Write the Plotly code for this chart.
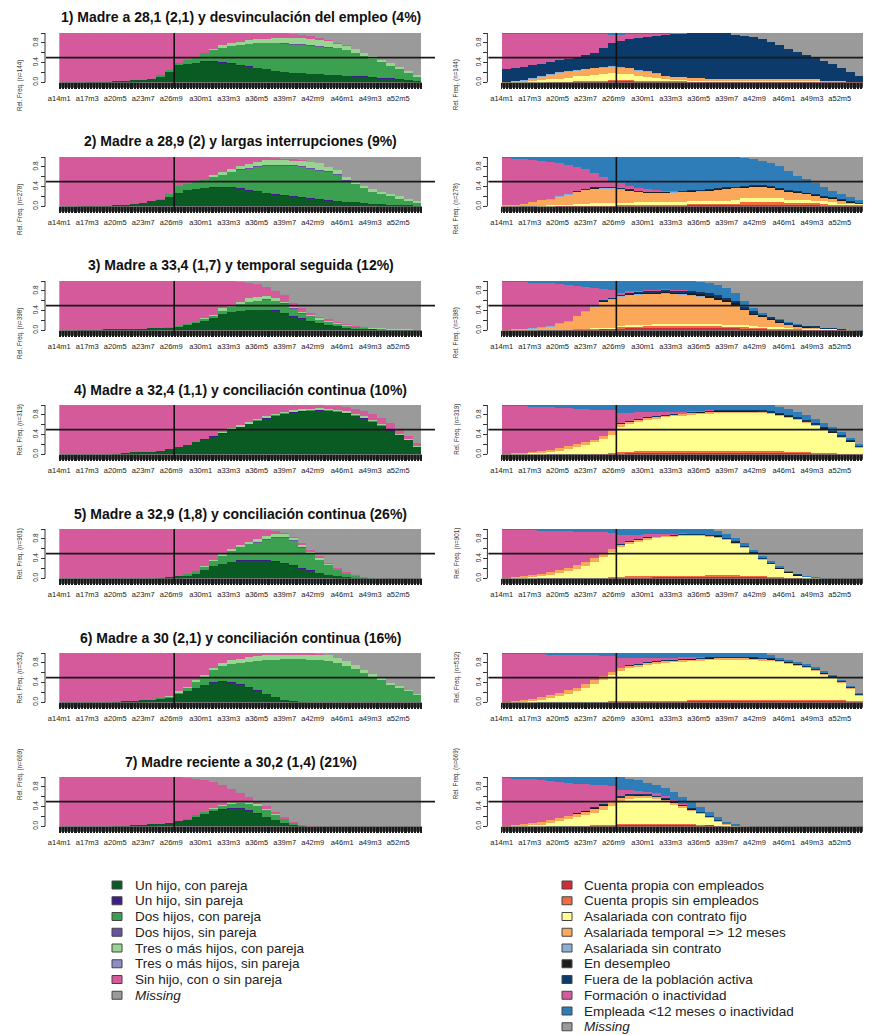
import plotly.graph_objects as go

W, H = 871, 1035
OFF = 8.0  # the page places the figure 8 px from the top-left corner
FW, FH = W - OFF, H - OFF

# ---------------- categories / labels ----------------
ages = list(range(14, 55))  # one bar per year of age (14 .. 54)
tick_labels = ["a14m1", "a17m3", "a20m5", "a23m7", "a26m9", "a30m1", "a33m3",
               "a36m5", "a39m7", "a42m9", "a46m1", "a49m3", "a52m5"]
cut_age = 27

titles = ["1) Madre a 28,1 (2,1) y desvinculación del empleo (4%)",
          "2) Madre a 28,9 (2) y largas interrupciones (9%)",
          "3) Madre a 33,4 (1,7) y temporal seguida (12%)",
          "4) Madre a 32,4 (1,1) y conciliación continua (10%)",
          "5) Madre a 32,9 (1,8) y conciliación continua (26%)",
          "6) Madre a 30 (2,1) y conciliación continua (16%)",
          "7) Madre reciente a 30,2 (1,4) (21%)"]
n_obs = [144, 278, 398, 319, 901, 532, 669]

fam_names = ["Un hijo, con pareja", "Un hijo, sin pareja", "Dos hijos, con pareja",
             "Dos hijos, sin pareja", "Tres o más hijos, con pareja",
             "Tres o más hijos, sin pareja", "Sin hijo, con o sin pareja", "Missing"]
fam_colors = ["#0A5A23", "#3F1C8C", "#3BA050", "#6A51A3",
              "#98D592", "#8E8CC4", "#D55A9C", "#9A9A9A"]

emp_names = ["Cuenta propia con empleados", "Cuenta propis sin empleados",
             "Asalariada con contrato fijo", "Asalariada temporal => 12 meses",
             "Asalariada sin contrato", "En desempleo", "Fuera de la población activa",
             "Formación o inactividad", "Empleada <12 meses o inactividad", "Missing"]
emp_colors = ["#D12A3A", "#F06B3E", "#FFFF8F", "#FBA85A", "#8AB0D8",
              "#1C1C1C", "#0B3A6B", "#D55A9C", "#2E7DB8", "#9A9A9A"]

ZERO = [0] * 41

# ---------------- panel 1 ----------------
f1_a = [0,0,0,.01,.01,.01,.02,.02,.04,.05, .07,.12,.2,.36,.38,.4,.42,.42,.4,.38,
        .35,.32,.29,.26,.23,.21,.19,.18,.17,.16, .15,.14,.13,.12,.11,.1,.08,.07,.05,.04, .03]
f1_b = [0,0,0,0,0,0,0,0,0,0, 0,0,0,0,0,0,.01,.01,.01,.01,
        .01,.01,.01,0,0,0,0,0,0,0, 0,0,0,.01,.01,.01,.01,.01,.01,0, 0]
f1_c = [0,0,0,0,0,0,0,0,0,0, 0,.02,.05,.03,.07,.12,.17,.23,.3,.35,
        .4,.45,.5,.53,.56,.57,.58,.58,.58,.57, .56,.55,.52,.47,.42,.37,.33,.27,.22,.16, .09]
f1_d = [0,0,0,0,0,0,0,0,0,0, 0,0,0,0,0,0,0,0,0,0,
        0,0,0,0,0,.01,.01,.01,.01,.01, .01,0,0,0,0,0,0,0,0,0, 0]
f1_e = [0,0,0,0,0,0,0,0,0,0, 0,0,0,0,0,0,0,.02,.04,.05,
        .06,.07,.08,.09,.1,.11,.12,.12,.12,.12, .12,.1,.09,.08,.06,.05,.04,.04,.03,.02, .02]
f1_f = ZERO
f1_g = [1,1,1,.99,.99,.99,.98,.98,.96,.95, .93,.86,.75,.61,.55,.48,.4,.32,.25,.21,
        .18,.15,.12,.12,.11,.1,.08,.06,.05,.04, .02,.01,.01,0,0,0,0,0,0,0, 0]
f1_h = [0,0,0,0,0,0,0,0,0,0, 0,0,0,0,0,0,0,0,0,0,
        0,0,0,0,0,0,.02,.05,.07,.1, .14,.2,.25,.32,.4,.47,.54,.61,.69,.78, .86]

e1_r1 = [0,0,0,0,0,0,0,0,.01,.01, .02,.02,.03,.03,.03,.02,.02,.02,.02,.02,
         .02,.01,.01,.01,.01,.01,.01,.01,.01,.01, .01,.01,.01,.01,.01,.01,.01,.01,.01,.01, .01]
e1_r2 = [0,0,0,0,0,.01,.01,.01,.01,.01, .01,.01,.01,.01,.01,.01,.01,.01,.01,.01,
         .01,0,0,0,0,0,0,0,0,0, 0,0,0,0,0,0,0,0,0,0, 0]
e1_r3 = [0,.01,.02,.03,.04,.05,.06,.08,.1,.11, .12,.13,.14,.13,.12,.1,.08,.06,.04,.03,
         .03,.02,.02,.02,.02,.02,.02,.02,.02,.02, .02,.02,.02,.02,.02,.02,.01,.01,.01,0, 0]
e1_r4 = [.01,.01,.02,.04,.07,.1,.12,.13,.12,.14, .14,.15,.14,.14,.13,.11,.1,.08,.05,.04,
         .04,.06,.05,.03,.03,.03,.03,.03,.03,.03, .03,.03,.03,.03,.03,.03,.01,.01,.01,0, 0]
e1_r5 = [0,0,.01,.01,.01,.01,.01,.01,.01,.01, .01,.01,.01,.01,.01,.01,.01,.01,0,0,
         0,0,0,0,0,0,0,0,0,0, 0,0,0,0,0,0,0,0,0,0, 0]
e1_r6 = ZERO
e1_r7 = [.27,.28,.27,.27,.26,.24,.25,.25,.27,.28, .3,.38,.47,.52,.57,.65,.7,.77,.84,.88,
         .89,.91,.92,.94,.94,.94,.91,.88,.85,.81, .76,.69,.62,.56,.49,.44,.4,.34,.26,.2, .11]
e1_r8 = [.71,.69,.67,.64,.61,.58,.53,.5,.46,.42, .38,.28,.16,.13,.11,.09,.07,.04,.03,.02,
         .01,0,0,0,0,0,0,0,0,0, 0,0,0,0,0,0,0,0,0,0, 0]
e1_r9 = [.01,.01,.01,.01,.01,.01,.02,.02,.02,.02, .02,.02,.04,.03,.02,.01,.01,.01,.01,0,
         0,0,0,0,0,0,0,0,0,0, 0,0,0,0,0,0,0,0,0,0, 0]
e1_r10 = [0,0,0,0,0,0,0,0,0,0, 0,0,0,0,0,0,0,0,0,0,
          0,0,0,0,0,0,.03,.06,.09,.13, .18,.25,.32,.38,.45,.5,.57,.63,.71,.79, .88]

# ---------------- panel 2 ----------------
f2_a = [0,0,.01,.01,.01,.01,.02,.03,.05,.07, .1,.13,.2,.27,.33,.36,.38,.39,.39,.38,
        .36,.33,.3,.27,.24,.22,.2,.18,.16,.14, .12,.11,.09,.08,.06,.05,.04,.03,.02,.02, .01]
f2_b = [0,0,0,0,0,0,0,0,0,0, 0,0,0,0,0,0,0,.01,.01,.01,
        .01,.01,.01,.01,.01,.01,.01,.01,.01,.01, .01,0,0,0,0,0,0,0,0,0, 0]
f2_c = [0,0,0,0,0,0,0,0,0,0, 0,.01,.04,.15,.13,.14,.16,.2,.25,.31,
        .37,.43,.49,.54,.58,.6,.61,.61,.6,.58, .57,.53,.44,.37,.31,.26,.22,.18,.14,.1, .07]
f2_d = [0,0,0,0,0,0,0,0,0,0, 0,0,0,0,0,0,0,0,0,0,
        .01,.01,.01,.01,.01,.01,.01,.01,.01,.01, .01,.01,.01,0,0,0,0,0,0,0, 0]
f2_e = [0,0,0,0,0,0,0,0,0,0, 0,0,0,0,0,0,0,.03,.04,.05,
        .07,.08,.09,.1,.1,.1,.1,.11,.12,.13, .09,.08,.06,.05,.05,.04,.04,.04,.04,.03, .03]
f2_f = ZERO
f2_g = [1,1,.99,.99,.99,.99,.98,.97,.95,.93, .9,.86,.76,.58,.54,.5,.46,.37,.31,.25,
        .18,.14,.1,.07,.05,.03,.02,.01,0,0, 0,0,0,0,0,0,0,0,0,0, 0]
f2_h = [0,0,0,0,0,0,0,0,0,0, 0,0,0,0,0,0,0,0,0,0,
        0,0,0,0,.01,.03,.05,.07,.1,.13, .2,.27,.4,.5,.58,.65,.7,.75,.8,.85, .89]

e2_r1 = [0,0,0,0,0,0,.01,.01,.01,.01, .01,.01,.01,.02,.02,.02,.02,.02,.02,.02,
         .02,.03,.03,.03,.03,.03,.03,.04,.04,.04, .04,.04,.03,.03,.03,.03,.02,.02,.02,.02, .02]
e2_r2 = [0,0,0,0,0,0,0,0,.01,.01, .01,.01,.01,.01,.01,.01,.01,.01,.01,.01,
         .01,.02,.02,.02,.02,.02,.02,.04,.04,.04, .04,.04,.03,.03,.03,.03,.03,.01,.01,.01, .01]
e2_r3 = [0,0,0,0,.01,.02,.02,.02,.02,.02, .04,.04,.04,.04,.04,.05,.05,.05,.05,.05,
         .05,.06,.06,.06,.06,.06,.08,.08,.08,.08, .08,.08,.06,.06,.06,.05,.05,.05,.02,.02, .02]
e2_r4 = [.02,.03,.05,.08,.11,.12,.16,.21,.25,.3, .3,.31,.31,.28,.25,.21,.19,.19,.19,.2,
         .21,.19,.2,.21,.23,.25,.25,.23,.24,.24, .22,.19,.18,.16,.13,.11,.08,.07,.07,.03, 0]
e2_r5 = [0,0,0,0,0,.01,.01,.01,.01,.01, .01,.01,.01,.01,.01,.01,.01,.01,.01,.01,
         .01,.01,.01,.01,.01,.01,0,0,0,0, 0,0,0,0,0,0,0,0,0,0, 0]
e2_r6 = [0,0,0,0,0,0,0,0,0,0, .01,.01,.01,.01,.01,.01,.01,.01,.01,.01,
         .01,.01,.01,.01,.01,.01,.01,.02,.02,.02, .02,.02,.02,.02,.02,.02,.02,.02,.01,.01, .01]
e2_r7 = [0,0,0,0,0,0,0,0,.01,.01, .01,.01,.01,.01,.01,.01,.01,.01,.01,.01,
         .01,.01,.01,.01,.01,.01,.01,.01,.01,.01, .01,.01,.01,.01,.01,.01,.01,.01,.01,.01, .01]
e2_r8 = [.96,.94,.91,.86,.8,.75,.68,.59,.49,.39, .29,.2,.12,.09,.07,.06,.05,.03,.02,.01,
         0,0,0,0,0,0,0,0,0,0, 0,0,0,0,0,0,0,0,0,0, 0]
e2_r9 = [.02,.03,.04,.06,.08,.1,.12,.16,.2,.25, .32,.4,.48,.53,.58,.62,.65,.67,.68,.68,
         .68,.67,.66,.65,.63,.61,.6,.56,.53,.49, .47,.44,.39,.31,.27,.22,.19,.14,.11,.08, .05]
e2_r10 = [0,0,0,0,0,0,0,0,0,0, 0,0,0,0,0,0,0,0,0,0,
          0,0,0,0,0,0,0,.02,.04,.08, .12,.18,.28,.38,.45,.53,.6,.68,.75,.82, .88]

# ---------------- panel 3 ----------------
f3_a = [0,0,.01,.01,.01,.02,.02,.02,.03,.03, .04,.05,.06,.08,.11,.16,.2,.26,.33,.37,
        .4,.41,.42,.42,.4,.35,.28,.23,.18,.14, .1,.08,.06,.04,.03,.03,.02,.02,.01,.01, .01]
f3_b = [0,0,0,0,0,0,0,0,0,0, 0,0,0,0,0,0,0,0,0,0,
        0,0,0,0,.01,.01,.01,.01,.01,.01, .01,0,0,0,0,0,0,0,0,0, 0]
f3_c = [0,0,0,0,0,0,0,0,0,0, 0,0,.01,.01,.01,.01,.03,.04,.07,.1,
        .13,.17,.18,.2,.19,.19,.16,.11,.11,.07, .06,.05,.04,.03,.02,.01,.01,0,0,0, 0]
f3_d = [0,0,0,0,0,0,0,0,0,0, 0,0,0,0,0,0,0,0,0,0,
        0,0,0,.01,.01,.01,.01,.01,0,0, 0,0,0,0,0,0,0,0,0,0, 0]
f3_e = [0,0,0,0,0,0,0,0,0,0, 0,0,0,0,0,0,.01,.01,.05,.05,
        .05,.07,.08,.07,.04,.02,.01,.02,.02,.03, .03,.02,.01,.01,.01,.01,.01,.01,.01,.01, 0]
f3_f = ZERO
f3_g = [1,1,.99,.99,.99,.98,.98,.98,.97,.97, .96,.95,.93,.91,.88,.83,.76,.69,.55,.48,
        .41,.32,.25,.18,.15,.14,.08,.07,.04,.03, .02,.02,.01,.01,.01,0,0,0,0,0, 0]
f3_h = [0,0,0,0,0,0,0,0,0,0, 0,0,0,0,0,0,0,0,0,0,
        .01,.03,.07,.12,.2,.28,.45,.55,.64,.72, .78,.83,.88,.91,.93,.95,.96,.97,.98,.98, .99]

e3_r1 = [0,0,0,0,0,0,0,.01,.01,.02, .02,.03,.03,.04,.05,.05,.06,.06,.06,.06,
         .06,.06,.06,.06,.06,.05,.05,.04,.03,.03, .02,.02,.02,.01,.01,.01,.01,.01,.01,0, 0]
e3_r2 = [0,0,0,0,0,0,0,0,.01,.01, .01,.01,.01,.03,.03,.03,.03,.03,.03,.03,
         .03,.03,.03,.03,.03,.03,.03,.03,.03,.02, .02,.02,.02,.02,.01,.01,.01,.01,.01,0, 0]
e3_r3 = [0,0,0,0,0,0,0,0,0,0, .01,.01,.01,.02,.02,.02,.02,.04,.04,.04,
         .04,.04,.04,.04,.04,.03,.03,.03,.02,.02, .02,.02,.01,.01,.01,.01,.01,.01,0,0, 0]
e3_r4 = [.01,.02,.03,.03,.05,.08,.13,.17,.27,.36, .45,.53,.58,.6,.62,.63,.63,.61,.62,.61,
         .6,.58,.56,.53,.49,.47,.41,.32,.25,.2, .16,.1,.06,.04,.03,.02,.01,0,0,.01, 0]
e3_r5 = [0,0,0,.01,.01,.01,.01,.01,.01,.01, .01,.01,.01,.01,.01,.01,.01,.01,.01,.01,
         .01,.01,.01,.01,.01,0,0,0,0,0, 0,0,0,0,0,0,0,0,0,0, 0]
e3_r6 = [0,0,0,0,0,0,0,0,0,0, 0,.01,.01,.01,.01,.02,.02,.02,.02,.02,
         .02,.03,.03,.03,.03,.03,.03,.02,.02,.02, .02,.02,.01,.01,.01,.01,0,0,0,0, 0]
e3_r7 = [0,0,0,0,0,0,0,0,0,0, 0,.01,.01,.02,.03,.03,.03,.03,.04,.04,
         .04,.05,.05,.05,.05,.05,.05,.04,.04,.04, .03,.03,.03,.02,.02,.02,.01,.01,.01,0, 0]
e3_r8 = [.98,.97,.95,.93,.9,.86,.8,.73,.6,.48, .36,.23,.16,.03,.02,.01,.01,.01,.01,.01,
         .01,0,0,0,0,0,0,0,0,0, 0,0,0,0,0,0,0,0,0,0, 0]
e3_r9 = [.01,.01,.02,.03,.04,.05,.06,.08,.1,.12, .14,.16,.18,.24,.21,.2,.19,.19,.17,.18,
         .19,.2,.2,.2,.21,.19,.15,.12,.06,.02, .01,.01,.01,.01,0,0,0,0,0,0, .01]
e3_r10 = [0,0,0,0,0,0,0,0,0,0, 0,0,0,0,0,0,0,0,0,0,
          0,0,.02,.05,.08,.15,.25,.4,.55,.65, .72,.78,.84,.88,.91,.92,.95,.96,.97,.99, .99]

# ---------------- panel 4 ----------------
f4_a = [0,0,0,0,0,0,.01,.02,.04,.05, .05,.06,.1,.14,.18,.24,.3,.37,.43,.5,
        .56,.62,.68,.73,.78,.82,.85,.87,.88,.89, .88,.86,.83,.78,.73,.66,.58,.49,.39,.29, .16]
f4_b = [0,0,0,0,0,0,0,0,0,0, 0,0,0,0,0,0,.01,.01,.01,.01,
        .01,.01,.01,.01,.01,.01,.01,.01,.01,.01, .01,.01,.01,.01,.01,.01,.01,.01,.01,0, 0]
f4_c = [0,0,0,0,0,0,0,0,0,0, 0,0,0,0,0,0,0,0,0,0,
        0,0,.01,.01,.01,.01,.01,.01,.01,.01, .01,.01,.01,.01,.01,.01,.01,0,0,0, 0]
f4_d = ZERO
f4_e = [0,0,0,0,0,0,0,0,0,0, 0,0,0,0,0,0,0,0,.02,.02,
        .02,.02,.02,.02,.02,.02,.02,.02,.02,.02, .02,.02,.02,.02,.02,.02,.02,.02,.02,.02, .01]
f4_f = ZERO
f4_g = [1,1,1,1,1,1,.99,.98,.96,.95, .95,.94,.9,.86,.82,.76,.69,.62,.54,.47,
        .41,.35,.28,.23,.18,.14,.11,.09,.08,.07, .07,.08,.09,.1,.11,.12,.12,.12,.1,.07, .05]
f4_h = [0,0,0,0,0,0,0,0,0,0, 0,0,0,0,0,0,0,0,0,0,
        0,0,0,0,0,0,0,0,0,0, .01,.02,.04,.08,.12,.18,.26,.36,.48,.62, .78]

e4_r1 = [0,0,0,0,0,0,0,0,0,0, .01,.01,.01,.02,.03,.04,.04,.04,.04,.04,
         .04,.04,.04,.04,.04,.04,.04,.04,.04,.04, .04,.04,.03,.03,.03,.02,.02,.02,.01,.01, .01]
e4_r2 = [0,0,0,0,0,0,0,0,0,0, 0,0,.01,.02,.02,.02,.02,.02,.02,.02,
         .02,.02,.02,.02,.02,.02,.02,.02,.02,.02, .02,.02,.02,.02,.01,.01,.01,.01,0,0, 0]
e4_r3 = [0,.01,.01,.03,.04,.06,.08,.11,.15,.18, .23,.3,.38,.51,.56,.6,.63,.67,.7,.72,
         .73,.75,.76,.77,.78,.78,.78,.78,.78,.78, .76,.73,.7,.65,.61,.56,.49,.41,.34,.24, .13]
e4_r4 = [.01,.01,.02,.02,.03,.03,.04,.05,.05,.06, .06,.07,.07,.07,.06,.05,.05,.04,.03,.03,
         .03,.03,.03,.03,.03,.03,.03,.03,.03,.02, .02,.02,.02,.02,.01,.01,.01,.01,.01,.01, .01]
e4_r5 = ZERO
e4_r6 = [0,0,0,0,0,0,0,0,0,0, 0,0,0,0,0,0,0,0,0,0,
         0,.01,.01,.01,.01,.01,.01,.01,.01,.01, .01,.01,.01,.01,.01,.01,.01,.01,.01,.01, .01]
e4_r7 = [0,0,0,0,0,0,0,0,0,0, 0,0,0,.01,.01,.01,.01,.01,.01,.01,
         .01,.01,.01,.01,.01,.01,.02,.02,.02,.02, .02,.02,.02,.02,.02,.02,.02,.02,.02,.02, .02]
e4_r8 = [.98,.97,.95,.92,.89,.86,.82,.77,.72,.67, .6,.52,.42,.2,.16,.13,.1,.08,.06,.04,
         .03,.02,.01,.01,0,0,0,0,0,0, 0,0,0,0,0,0,0,0,0,0, 0]
e4_r9 = [.01,.01,.02,.03,.04,.05,.06,.07,.08,.09, .1,.1,.11,.17,.16,.15,.15,.14,.14,.14,
         .14,.12,.12,.11,.11,.11,.1,.1,.1,.11, .13,.13,.12,.11,.1,.09,.08,.07,.06,.04, .02]
e4_r10 = [0,0,0,0,0,0,0,0,0,0, 0,0,0,0,0,0,0,0,0,0,
          0,0,0,0,0,0,0,0,0,0, 0,.03,.08,.14,.21,.28,.36,.45,.55,.67, .8]

# ---------------- panel 5 ----------------
f5_a = [0,0,0,0,0,0,0,0,0,0, 0,.01,.02,.04,.06,.1,.16,.25,.3,.33,
        .36,.37,.37,.36,.34,.3,.26,.2,.15,.1, .07,.04,.02,.01,.01,0,0,0,0,0, 0]
f5_b = [0,0,0,0,0,0,0,0,0,0, 0,0,0,0,0,0,0,0,0,0,
        .01,.01,.01,.01,.01,.01,.01,.01,.01,0, 0,0,0,0,0,0,0,0,0,0, 0]
f5_c = [0,0,0,0,0,0,0,0,0,0, 0,0,0,0,.02,.04,.07,.11,.17,.23,
        .26,.31,.35,.41,.48,.52,.49,.42,.35,.28, .2,.13,.07,.04,.01,.01,0,0,0,0, 0]
f5_d = [0,0,0,0,0,0,0,0,0,0, 0,0,0,0,0,0,0,0,0,0,
        0,0,.01,.01,.01,.01,.01,.01,.01,.01, 0,0,0,0,0,0,0,0,0,0, 0]
f5_e = [0,0,0,0,0,0,0,0,0,0, 0,0,0,0,0,0,.01,.02,.03,.04,
        .05,.05,.06,.06,.06,.06,.05,.04,.03,.03, .02,.01,.01,0,0,0,0,0,0,0, 0]
f5_f = ZERO
f5_g = [1,1,1,1,1,1,1,1,1,1, 1,.99,.98,.96,.92,.86,.76,.62,.5,.4,
        .32,.26,.2,.14,.07,.02,.02,.04,.03,.03, .03,.02,.02,.01,.01,0,0,0,0,0, 0]
f5_h = [0,0,0,0,0,0,0,0,0,0, 0,0,0,0,0,0,0,0,0,0,
        0,0,0,.01,.03,.08,.16,.28,.42,.55, .68,.8,.88,.94,.97,.99,1,1,1,1, 1]

e5_r1 = [0,0,0,0,0,0,0,0,0,0, 0,0,.01,.02,.02,.02,.02,.03,.03,.03,
         .03,.03,.03,.04,.04,.04,.04,.03,.03,.03, .02,.02,.01,.01,0,0,0,0,0,0, 0]
e5_r2 = [0,0,0,0,0,0,0,0,0,0, 0,0,.01,.01,.02,.02,.02,.02,.02,.02,
         .02,.02,.02,.02,.02,.02,.02,.02,.02,.01, .01,.01,0,0,0,0,0,0,0,0, 0]
e5_r3 = [0,.01,.02,.04,.06,.08,.11,.14,.19,.25, .34,.43,.52,.6,.66,.7,.75,.77,.79,.8,
         .81,.81,.81,.78,.77,.72,.65,.57,.45,.35, .26,.16,.1,.04,.03,.01,0,0,0,0, 0]
e5_r4 = [.01,.01,.02,.02,.03,.04,.05,.06,.07,.08, .08,.07,.06,.05,.04,.04,.03,.02,.02,.02,
         .02,.02,.02,.02,.02,.02,.02,.02,.01,.01, .01,.01,.01,.01,0,0,0,0,0,0, 0]
e5_r5 = ZERO
e5_r6 = [0,0,0,0,0,0,0,0,0,0, 0,0,0,0,0,0,0,0,0,0,
         .01,.01,.01,.01,.01,.01,.01,.01,.01,.01, .01,.01,.01,.01,0,0,0,0,0,0, 0]
e5_r7 = [0,0,0,0,0,0,0,0,0,0, 0,0,0,.01,.01,.01,.01,.01,.01,.01,
         .01,.01,.01,.01,.01,.01,.01,.01,.01,.01, .01,.01,.01,.01,0,0,0,0,0,0, 0]
e5_r8 = [.98,.97,.94,.92,.88,.84,.79,.75,.68,.61, .51,.43,.32,.18,.12,.08,.06,.04,.03,.02,
         .01,0,0,0,0,0,0,0,0,0, 0,0,0,0,0,0,0,0,0,0, 0]
e5_r9 = [.01,.01,.02,.02,.03,.04,.05,.05,.06,.06, .07,.07,.08,.13,.13,.13,.11,.11,.1,.1,
         .09,.1,.1,.12,.1,.08,.07,.06,.05,.04, .03,.02,.01,0,.01,.01,.01,0,0,0, 0]
e5_r10 = [0,0,0,0,0,0,0,0,0,0, 0,0,0,0,0,0,0,0,0,0,
          0,0,0,0,.03,.1,.18,.28,.42,.54, .65,.76,.85,.92,.96,.98,.99,1,1,1, 1]

# ---------------- panel 6 ----------------
f6_a = [0,0,0,0,0,0,.01,.02,.03,.04, .05,.07,.1,.18,.23,.3,.36,.4,.42,.4,
        .36,.3,.24,.17,.1,.05,.03,.01,0,0, 0,0,0,0,0,0,0,0,0,0, 0]
f6_b = [0,0,0,0,0,0,0,0,0,0, 0,0,0,0,0,0,0,.01,.01,.01,
        .01,.01,.01,0,0,0,0,0,0,0, 0,0,0,0,0,0,0,0,0,0, 0]
f6_c = [0,0,0,0,0,0,0,0,0,0, 0,.01,.02,.02,.07,.12,.16,.24,.3,.37,
        .43,.51,.59,.68,.76,.82,.84,.86,.86,.85, .83,.8,.74,.67,.6,.52,.46,.37,.3,.23, .15]
f6_d = ZERO
f6_e = [0,0,0,0,0,0,0,0,0,0, 0,0,.01,.02,.02,.03,.03,.05,.07,.07,
        .08,.09,.09,.1,.1,.1,.1,.1,.11,.12, .13,.1,.09,.08,.06,.05,.04,.03,.03,.02, .01]
f6_f = ZERO
f6_g = [1,1,1,1,1,1,.99,.98,.97,.96, .95,.92,.87,.78,.68,.55,.45,.3,.2,.15,
        .12,.09,.07,.05,.04,.03,.03,.03,.03,.02, 0,0,0,0,0,0,0,0,0,0, 0]
f6_h = [0,0,0,0,0,0,0,0,0,0, 0,0,0,0,0,0,0,0,0,0,
        0,0,0,0,0,0,0,0,0,.01, .04,.1,.17,.25,.34,.43,.5,.6,.67,.75, .84]

e6_r1 = [0,0,0,0,0,0,0,0,0,0, 0,0,.01,.01,.02,.02,.02,.02,.02,.02,
         .02,.03,.03,.03,.03,.03,.03,.03,.03,.04, .04,.04,.04,.04,.04,.04,.03,.03,.03,.02, .02]
e6_r2 = [0,0,0,0,0,0,0,0,0,0, 0,0,.01,.01,.01,.01,.01,.01,.01,.01,
         .01,.01,.01,.01,.01,.01,.01,.01,.01,.01, .01,.01,.01,.01,.01,.01,.01,.01,.01,.01, .01]
e6_r3 = [0,0,.02,.04,.06,.09,.12,.17,.22,.29, .37,.46,.53,.62,.66,.7,.73,.76,.78,.79,
         .8,.8,.81,.82,.83,.83,.83,.83,.82,.8, .79,.77,.74,.7,.65,.59,.53,.46,.36,.25, .1]
e6_r4 = [.01,.02,.02,.03,.04,.05,.06,.07,.08,.09, .09,.08,.07,.06,.05,.04,.04,.03,.03,.03,
         .03,.03,.03,.03,.03,.03,.03,.03,.03,.03, .03,.02,.02,.02,.02,.02,.02,.02,.02,.02, .02]
e6_r5 = ZERO
e6_r6 = [0,0,0,0,0,0,0,0,0,0, 0,0,0,0,0,0,0,0,0,0,
         .01,.01,.01,.01,.01,.01,.01,.01,.01,.01, .01,.01,.01,.01,.01,.01,.01,.01,.01,.01, .01]
e6_r7 = [0,0,0,0,0,0,0,0,0,0, 0,0,0,0,.01,.01,.01,.01,.01,.01,
         .01,.01,.01,.01,.01,.01,.01,.01,.01,.01, .01,.01,.01,.01,.01,.01,.01,.01,.01,.01, .01]
e6_r8 = [.98,.97,.95,.91,.88,.83,.79,.72,.66,.57, .49,.4,.32,.2,.15,.11,.08,.06,.05,.04,
         .03,.02,.01,0,0,0,0,0,0,0, 0,0,0,0,0,0,0,0,0,0, 0]
e6_r9 = [.01,.01,.01,.02,.02,.03,.03,.04,.04,.05, .05,.06,.06,.1,.1,.11,.11,.11,.1,.1,
         .09,.09,.09,.09,.08,.08,.08,.08,.09,.1, .08,.04,.03,.03,.03,.03,.03,.02,.02,.02, .01]
e6_r10 = [0,0,0,0,0,0,0,0,0,0, 0,0,0,0,0,0,0,0,0,0,
          0,0,0,0,0,0,0,0,0,0, .03,.1,.14,.18,.23,.29,.36,.44,.54,.66, .82]

# ---------------- panel 7 ----------------
f7_a = [0,0,0,0,0,0,.01,.01,.02,.03, .04,.05,.07,.1,.13,.19,.25,.3,.34,.36,
        .36,.32,.26,.19,.12,.06,.02,.01,0,0, 0,0,0,0,0,0,0,0,0,0, 0]
f7_b = [0,0,0,0,0,0,0,0,0,0, 0,0,0,0,0,0,0,.01,.01,.01,
        .01,.01,.01,0,0,0,0,0,0,0, 0,0,0,0,0,0,0,0,0,0, 0]
f7_c = [0,0,0,0,0,0,0,0,0,0, 0,0,0,0,.01,.03,.05,.06,.07,.1,
        .11,.14,.15,.15,.12,.09,.05,.01,0,0, 0,0,0,0,0,0,0,0,0,0, 0]
f7_d = ZERO
f7_e = [0,0,0,0,0,0,0,0,0,0, 0,0,0,0,0,0,0,.01,.02,.03,
        .03,.03,.03,.02,.01,0,0,0,0,0, 0,0,0,0,0,0,0,0,0,0, 0]
f7_f = ZERO
f7_g = [1,1,1,1,1,1,.99,.99,.98,.97, .96,.95,.93,.9,.85,.75,.64,.52,.4,.26,
        .16,.1,.07,.06,.05,.03,.02,.01,.01,0, 0,0,0,0,0,0,0,0,0,0, 0]
f7_h = [0,0,0,0,0,0,0,0,0,0, 0,0,0,0,.01,.03,.06,.1,.16,.24,
        .33,.4,.48,.58,.7,.82,.91,.97,.99,1, 1,1,1,1,1,1,1,1,1,1, 1]

e7_r1 = [0,0,0,0,0,0,0,0,0,0, .01,.01,.02,.04,.04,.04,.04,.04,.04,.03,
         .03,.03,.02,.02,.01,0,0,0,0,0, 0,0,0,0,0,0,0,0,0,0, 0]
e7_r2 = [0,0,0,0,0,0,0,0,0,0, .01,.01,.01,.01,.01,.01,.01,.01,.01,.01,
         .01,.01,.01,0,0,0,0,0,0,0, 0,0,0,0,0,0,0,0,0,0, 0]
e7_r3 = [0,.01,.02,.03,.04,.07,.1,.14,.18,.22, .26,.32,.39,.46,.51,.53,.52,.5,.46,.41,
         .35,.28,.22,.15,.09,.04,.01,0,0,0, 0,0,0,0,0,0,0,0,0,0, 0]
e7_r4 = [.01,.01,.02,.03,.04,.05,.06,.07,.08,.09, .09,.09,.08,.07,.06,.05,.05,.05,.04,.04,
         .03,.03,.02,.02,.01,.01,.01,.01,0,0, 0,0,0,0,0,0,0,0,0,0, 0]
e7_r5 = ZERO
e7_r6 = [0,0,0,0,0,0,0,0,.01,.01, .01,.01,.01,.01,.01,.01,.01,.01,.01,.01,
         .01,.01,.01,.01,.01,0,0,0,0,0, 0,0,0,0,0,0,0,0,0,0, 0]
e7_r7 = [0,0,0,0,0,0,0,0,0,0, .01,.01,.01,.02,.02,.02,.02,.02,.02,.02,
         .02,.02,.02,.01,.01,0,0,0,0,0, 0,0,0,0,0,0,0,0,0,0, 0]
e7_r8 = [.97,.95,.92,.89,.85,.8,.74,.67,.59,.53, .45,.38,.3,.12,.08,.06,.05,.04,.03,.02,
         .01,0,0,0,0,0,0,0,0,0, 0,0,0,0,0,0,0,0,0,0, 0]
e7_r9 = [.02,.03,.04,.05,.07,.08,.1,.12,.14,.15, .16,.17,.18,.27,.24,.21,.18,.16,.16,.15,
         .14,.12,.1,.08,.05,.04,.02,0,0,0, 0,0,0,0,0,0,0,0,0,0, 0]
e7_r10 = [0,0,0,0,0,0,0,0,0,0, 0,0,0,0,.03,.07,.12,.17,.23,.31,
          .4,.5,.6,.71,.82,.91,.96,.99,1,1, 1,1,1,1,1,1,1,1,1,1, 1]

fam_panels = [
    [f1_a, f1_b, f1_c, f1_d, f1_e, f1_f, f1_g, f1_h],
    [f2_a, f2_b, f2_c, f2_d, f2_e, f2_f, f2_g, f2_h],
    [f3_a, f3_b, f3_c, f3_d, f3_e, f3_f, f3_g, f3_h],
    [f4_a, f4_b, f4_c, f4_d, f4_e, f4_f, f4_g, f4_h],
    [f5_a, f5_b, f5_c, f5_d, f5_e, f5_f, f5_g, f5_h],
    [f6_a, f6_b, f6_c, f6_d, f6_e, f6_f, f6_g, f6_h],
    [f7_a, f7_b, f7_c, f7_d, f7_e, f7_f, f7_g, f7_h],
]
emp_panels = [
    [e1_r1, e1_r2, e1_r3, e1_r4, e1_r5, e1_r6, e1_r7, e1_r8, e1_r9, e1_r10],
    [e2_r1, e2_r2, e2_r3, e2_r4, e2_r5, e2_r6, e2_r7, e2_r8, e2_r9, e2_r10],
    [e3_r1, e3_r2, e3_r3, e3_r4, e3_r5, e3_r6, e3_r7, e3_r8, e3_r9, e3_r10],
    [e4_r1, e4_r2, e4_r3, e4_r4, e4_r5, e4_r6, e4_r7, e4_r8, e4_r9, e4_r10],
    [e5_r1, e5_r2, e5_r3, e5_r4, e5_r5, e5_r6, e5_r7, e5_r8, e5_r9, e5_r10],
    [e6_r1, e6_r2, e6_r3, e6_r4, e6_r5, e6_r6, e6_r7, e6_r8, e6_r9, e6_r10],
    [e7_r1, e7_r2, e7_r3, e7_r4, e7_r5, e7_r6, e7_r7, e7_r8, e7_r9, e7_r10],
]
for p in fam_panels + emp_panels:
    for s in p:
        assert len(s) == len(ages), len(s)


def label_pos(lbl):
    a, m = lbl[1:].split("m")
    return int(a) + (int(m) - 1) / 12


tick_pos = [label_pos(l) for l in tick_labels]
bar_x = [a + 0.5 for a in ages]
x_min, x_max = ages[0], ages[-1] + 1

# ---------------- layout geometry (page pixels) ----------------
COLS = [(59.3, 421.7), (501.7, 863.3)]
TOP0, STEP, UNIT = 33.0, 124.0, 49.3
STRIP = 5.5
FONT = "Liberation Sans, Arial, Helvetica, sans-serif"


def px_x(p):
    return (p - OFF) / FW


def px_y(p):
    return 1 - (p - OFF) / FH


fig = go.Figure()
shapes, annotations = [], []
layout_axes = {}

for r in range(7):
    top = TOP0 + r * STEP
    bot = top + UNIT
    for c in range(2):
        idx = r * 2 + c + 1
        xs = "" if idx == 1 else str(idx)
        x0, x1 = COLS[c]
        series = fam_panels[r] if c == 0 else emp_panels[r]
        names = fam_names if c == 0 else emp_names
        colors = fam_colors if c == 0 else emp_colors
        for vals, nm, col in zip(series, names, colors):
            fig.add_trace(go.Bar(
                x=bar_x, y=vals, width=1, name=nm,
                marker=dict(color=col, line=dict(width=0)),
                xaxis="x" + xs, yaxis="y" + xs, showlegend=False,
                hoverinfo="skip"))
        layout_axes["xaxis" + xs] = dict(
            domain=[px_x(x0), px_x(x1)], range=[x_min, x_max], anchor="y" + xs,
            tickmode="array", tickvals=tick_pos, ticktext=tick_labels,
            ticks="outside", ticklen=STRIP, tickwidth=1, tickcolor="#1a1a1a",
            minor=dict(tickmode="linear", tick0=x_min, dtick=1 / 6, ticks="outside",
                       ticklen=STRIP, tickwidth=1, tickcolor="#1a1a1a", showgrid=False),
            tickfont=dict(size=7.5, color="#222", family=FONT),
            ticklabelstandoff=3, automargin=False,
            showgrid=False, zeroline=False, showline=False, fixedrange=True)
        ax_px = x0 - 14.3
        layout_axes["yaxis" + xs] = dict(
            domain=[px_y(bot), px_y(top)], range=[0, 1], anchor="free",
            position=px_x(ax_px), automargin=False,
            tickmode="array", tickvals=[0, .2, .4, .6, .8, 1],
            ticktext=["0.0", "", "0.4", "", "0.8", ""],
            ticks="outside", ticklen=4, tickwidth=1, tickcolor="#333",
            tickangle=-90, tickfont=dict(size=6.5, color="#222", family=FONT),
            showgrid=False, zeroline=False, showline=False, fixedrange=True)
        # dark tick strip under the bars
        shapes.append(dict(type="rect", xref="paper", yref="paper", layer="below",
                           x0=px_x(x0), x1=px_x(x1), y0=px_y(bot + STRIP), y1=px_y(bot),
                           fillcolor="#474747", line=dict(width=0)))
        # y axis line (0 .. 1)
        shapes.append(dict(type="line", xref="paper", yref="paper",
                           x0=px_x(ax_px), x1=px_x(ax_px), y0=px_y(bot), y1=px_y(top),
                           line=dict(color="#333", width=1)))
        # y axis title
        annotations.append(dict(text="Rel. Freq. (n=%d)" % n_obs[r],
                                 xref="paper", yref="paper",
                                 x=px_x(x0 - 45.5), y=px_y((top + bot) / 2),
                                 textangle=-90, showarrow=False,
                                 font=dict(size=6.3, color="#333", family=FONT)))
        # horizontal reference line at 0.5
        shapes.append(dict(type="line", xref="paper", yref="paper",
                           x0=px_x(x0 - 13.3), x1=min(1.0, px_x(x1 + 13.3)),
                           y0=px_y(top + UNIT / 2), y1=px_y(top + UNIT / 2),
                           line=dict(color="#1a1a1a", width=1.6)))
        # vertical reference line at cut age
        vx = x0 + (cut_age - x_min) / (x_max - x_min) * (x1 - x0)
        shapes.append(dict(type="line", xref="paper", yref="paper",
                           x0=px_x(vx), x1=px_x(vx), y0=px_y(bot + STRIP), y1=px_y(top),
                           line=dict(color="#111", width=1.6)))
    # row title
    annotations.append(dict(text="<b>%s</b>" % titles[r], xref="paper", yref="paper",
                            x=px_x(sum(COLS[0]) / 2), y=px_y(17.5 + r * STEP),
                            showarrow=False, xanchor="center", yanchor="middle",
                            font=dict(size=14, color="#111", family=FONT)))

# ---------------- legends ----------------
LEG_Y0, LEG_DY = 885.0, 15.75
legends = [(fam_names, fam_colors, 112.0, 133.0), (emp_names, emp_colors, 562.0, 582.0)]
for names, colors, sq_x, tx_x in legends:
    for i, (nm, col) in enumerate(zip(names, colors)):
        yc = LEG_Y0 + i * LEG_DY
        shapes.append(dict(type="rect", xref="paper", yref="paper",
                           x0=px_x(sq_x), x1=px_x(sq_x + 10),
                           y0=px_y(yc + 4), y1=px_y(yc - 4),
                           fillcolor=col, line=dict(color="#444", width=1)))
        label = "<i>%s</i>" % nm if nm == "Missing" else nm
        annotations.append(dict(text=label, xref="paper", yref="paper",
                                x=px_x(tx_x), y=px_y(yc), xanchor="left", yanchor="middle",
                                showarrow=False,
                                font=dict(size=13.5, color="#222", family=FONT)))

fig.update_layout(
    width=FW, height=FH, margin=dict(l=0, r=0, t=0, b=0, pad=0, autoexpand=False),
    paper_bgcolor="white", plot_bgcolor="white",
    barmode="stack", bargap=0, bargroupgap=0,
    font=dict(family=FONT), showlegend=False,
    shapes=shapes, annotations=annotations, **layout_axes)

fig.write_html("out.html", config={"displayModeBar": False})
